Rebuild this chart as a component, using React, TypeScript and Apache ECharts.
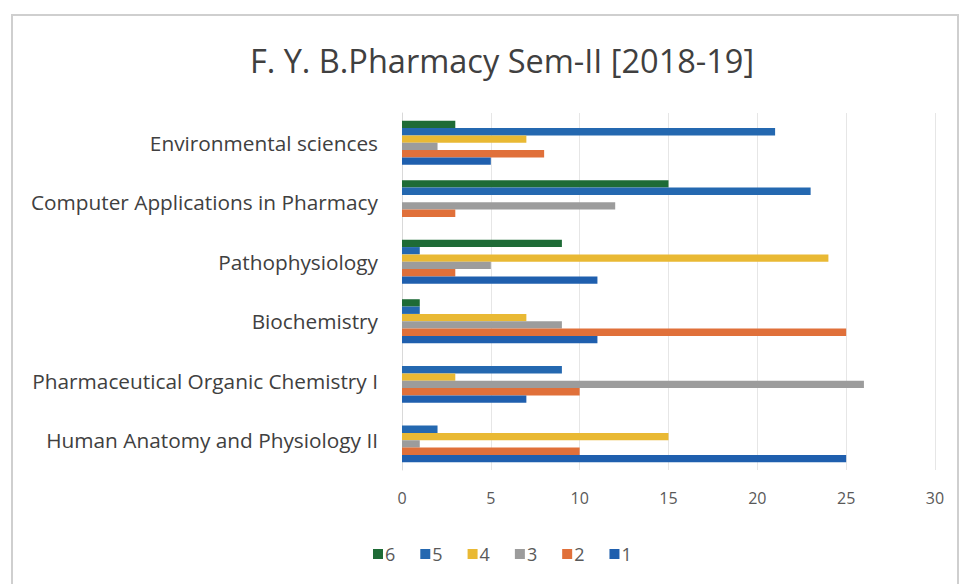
import React, { useEffect, useRef } from "react";
import * as echarts from "echarts";

const categories = [
  "Human Anatomy and Physiology II",
  "Pharmaceutical Organic Chemistry I",
  "Biochemistry",
  "Pathophysiology",
  "Computer Applications in Pharmacy",
  "Environmental sciences",
];
const seriesNames = ["1", "2", "3", "4", "5", "6"];
const s1 = [25, 7, 11, 11, 0, 5];
const s2 = [10, 10, 25, 3, 3, 8];
const s3 = [1, 26, 9, 5, 12, 2];
const s4 = [15, 3, 7, 24, 0, 7];
const s5 = [2, 9, 1, 1, 23, 21];
const s6 = [0, 0, 1, 9, 15, 3];
const seriesValues = [s1, s2, s3, s4, s5, s6];
const colors = ["#1F5FAE", "#E0703A", "#9C9C9C", "#E9B934", "#2468B0", "#1E6B36"];
const legendOrder = ["6", "5", "4", "3", "2", "1"];
const xTicks = [0, 5, 10, 15, 20, 25, 30];

export default function App() {
  const ref = useRef<HTMLDivElement>(null);
  useEffect(() => {
    if (!ref.current) return;
    const chart = echarts.init(ref.current, null, { renderer: "svg" });
    const font = "'Open Sans', Lato, sans-serif";
    const order = [5, 4, 3, 2, 1, 0];
    chart.setOption({
      animation: false,
      backgroundColor: "#ffffff",
      title: {
        text: "F. Y. B.Pharmacy Sem-II [2018-19]",
        left: 497,
        textAlign: "center",
        top: 39,
        textStyle: { fontFamily: font, fontSize: 32.5, fontWeight: "normal", color: "#404040" },
      },
      graphic: [
        {
          type: "rect",
          shape: { x: 12, y: 15, width: 946, height: 580 },
          style: { fill: "none", stroke: "#cfcfcf", lineWidth: 2 },
          silent: true,
        },
      ],
      legend: {
        data: legendOrder,
        left: 368,
        top: 540,
        itemWidth: 10,
        itemHeight: 10,
        itemGap: 25,
        icon: "rect",
        textStyle: { fontFamily: font, fontSize: 18, color: "#595959", padding: [0, 0, 0, -3] },
      },
      grid: { left: 402, right: 31, top: 113, bottom: 114, containLabel: false },
      xAxis: {
        type: "value",
        min: 0,
        max: 30,
        interval: 5,
        axisLine: { show: false },
        axisTick: { show: false },
        splitLine: { show: true, lineStyle: { color: "#e6e6e6", width: 1 } },
        axisLabel: {
          fontFamily: font,
          fontSize: 16,
          color: "#595959",
          margin: 20,
          formatter: (v: number) => (xTicks.includes(v) ? String(v) : ""),
        },
      },
      yAxis: {
        type: "category",
        data: categories,
        axisLine: { show: true, lineStyle: { color: "#d9d9d9" } },
        axisTick: { show: false },
        axisLabel: { fontFamily: font, fontSize: 20.8, color: "#404040", margin: 24 },
      },
      series: order.map((i) => ({
        name: seriesNames[i],
        type: "bar",
        data: seriesValues[i],
        itemStyle: { color: colors[i] },
        barGap: "0%",
        barCategoryGap: "26%",
      })),
    });
    return () => chart.dispose();
  }, []);
  return (
    <div
      ref={ref}
      style={{ position: "absolute", left: 0, top: 0, width: 966, height: 584 }}
    />
  );
}
